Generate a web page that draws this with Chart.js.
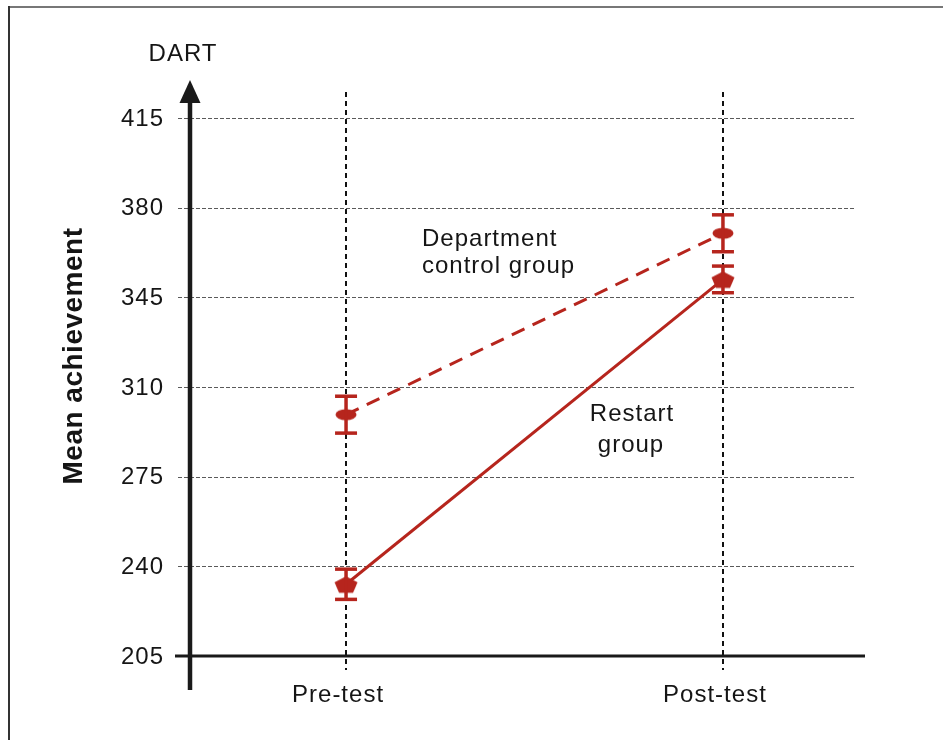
<!DOCTYPE html>
<html>
<head>
<meta charset="utf-8">
<script src="https://cdn.jsdelivr.net/npm/chart.js@4.4.1/dist/chart.umd.min.js"></script>
<style>
html,body{margin:0;padding:0;background:#fff;}
canvas{display:block;}
</style>
</head>
<body>
<canvas id="c" width="943" height="740"></canvas>
<script>
// ---- data ----
const categories = ['Pre-test', 'Post-test'];
const controlMeans = [299.2, 370.0];
const controlErr = [7.2, 7.2];
const restartMeans = [233.0, 352.0];
const restartErr = [5.9, 5.2];
const yTicks = [205, 240, 275, 310, 345, 380, 415];
const yTitle = 'Mean achievement';
const axisLabel = 'DART';
const controlLabel = ['Department', 'control group'];
const restartLabel = ['Restart', 'group'];

const RED = '#B6251D';
const FONT = "'Liberation Sans', Arial, sans-serif";

function makeEllipse() {
  const c = document.createElement('canvas');
  c.width = 24; c.height = 14;
  const g = c.getContext('2d');
  g.fillStyle = RED;
  g.beginPath();
  g.ellipse(12, 7, 10.5, 5.5, 0, 0, Math.PI * 2);
  g.fill();
  return c;
}
function makePentagon() {
  const c = document.createElement('canvas');
  c.width = 26; c.height = 20;
  const g = c.getContext('2d');
  g.fillStyle = RED;
  g.beginPath();
  g.moveTo(13, 2);
  g.lineTo(24.5, 8);
  g.lineTo(20, 18.5);
  g.lineTo(6, 18.5);
  g.lineTo(1.5, 8);
  g.closePath();
  g.fill();
  return c;
}

const errs = [controlErr, restartErr];

const decor = {
  id: 'decor',
  beforeDatasetsDraw(chart) {
    const ctx = chart.ctx;
    const xs = chart.scales.x, ys = chart.scales.y;
    const area = chart.chartArea;
    ctx.save();
    // frame
    ctx.strokeStyle = '#777';
    ctx.lineWidth = 2;
    ctx.beginPath(); ctx.moveTo(8, 7); ctx.lineTo(943, 7); ctx.stroke();
    ctx.strokeStyle = '#333';
    ctx.beginPath(); ctx.moveTo(9, 6); ctx.lineTo(9, 740); ctx.stroke();

    // gridlines
    ctx.strokeStyle = '#5a5a5a';
    ctx.lineWidth = 1;
    ctx.setLineDash([4, 2]);
    yTicks.forEach(v => {
      if (v === yTicks[0]) return;
      const y = Math.round(ys.getPixelForValue(v)) + 0.5;
      ctx.beginPath(); ctx.moveTo(178, y); ctx.lineTo(area.right, y); ctx.stroke();
    });

    // vertical dashed lines
    ctx.strokeStyle = '#111';
    ctx.lineWidth = 2;
    ctx.setLineDash([5, 4]);
    categories.forEach((c, i) => {
      const x = Math.round(xs.getPixelForValue(i));
      ctx.beginPath(); ctx.moveTo(x, 92); ctx.lineTo(x, 670); ctx.stroke();
    });
    ctx.setLineDash([]);

    // axes
    ctx.strokeStyle = '#1a1a1a';
    ctx.fillStyle = '#1a1a1a';
    ctx.lineWidth = 3;
    const y0 = ys.getPixelForValue(yTicks[0]);
    ctx.beginPath(); ctx.moveTo(175, y0); ctx.lineTo(865, y0); ctx.stroke();
    ctx.lineWidth = 4.5;
    ctx.beginPath(); ctx.moveTo(area.left, 690); ctx.lineTo(area.left, 100); ctx.stroke();
    ctx.beginPath();
    ctx.moveTo(area.left, 80);
    ctx.lineTo(area.left + 10.5, 103);
    ctx.lineTo(area.left - 10.5, 103);
    ctx.closePath();
    ctx.fill();

    // texts
    ctx.letterSpacing = '1px';
    ctx.fillStyle = '#151515';
    ctx.font = '24px ' + FONT;
    ctx.textBaseline = 'middle';
    ctx.textAlign = 'right';
    yTicks.forEach(v => {
      ctx.fillText(String(v), 164, ys.getPixelForValue(v) + 1);
    });
    ctx.textAlign = 'center';
    categories.forEach((c, i) => {
      ctx.fillText(c, xs.getPixelForValue(i) - 8, 695);
    });
    ctx.fillText(axisLabel, 183, 54);
    ctx.textAlign = 'left';
    ctx.fillText(controlLabel[0], 422, 239);
    ctx.fillText(controlLabel[1], 422, 266);
    ctx.textAlign = 'center';
    ctx.fillText(restartLabel[0], 632, 414);
    ctx.fillText(restartLabel[1], 631, 445);

    ctx.save();
    ctx.translate(74, 356);
    ctx.rotate(-Math.PI / 2);
    ctx.letterSpacing = '0.5px';
    ctx.font = 'bold 28px ' + FONT;
    ctx.fillText(yTitle, 0, 0);
    ctx.restore();
    ctx.restore();
  },
  afterDatasetsDraw(chart) {
    const ctx = chart.ctx;
    const xs = chart.scales.x, ys = chart.scales.y;
    ctx.save();
    ctx.strokeStyle = RED;
    chart.data.datasets.forEach((ds, di) => {
      ds.data.forEach((p, j) => {
        const x = xs.getPixelForValue(p.x);
        const yt = ys.getPixelForValue(p.y + errs[di][j]);
        const yb = ys.getPixelForValue(p.y - errs[di][j]);
        ctx.lineWidth = 3.5;
        ctx.beginPath(); ctx.moveTo(x, yt); ctx.lineTo(x, yb); ctx.stroke();
        ctx.beginPath(); ctx.moveTo(x - 11, yt); ctx.lineTo(x + 11, yt); ctx.stroke();
        ctx.beginPath(); ctx.moveTo(x - 11, yb); ctx.lineTo(x + 11, yb); ctx.stroke();
      });
    });
    ctx.restore();
  }
};

new Chart(document.getElementById('c'), {
  type: 'line',
  data: {
    datasets: [
      {
        label: 'Department control group',
        data: controlMeans.map((v, i) => ({ x: i, y: v })),
        borderColor: RED,
        borderWidth: 3,
        borderDash: [14, 9],
        pointStyle: makeEllipse(),
        pointRadius: 10,
        fill: false,
        tension: 0
      },
      {
        label: 'Restart group',
        data: restartMeans.map((v, i) => ({ x: i, y: v })),
        borderColor: RED,
        borderWidth: 3,
        pointStyle: makePentagon(),
        pointRadius: 10,
        fill: false,
        tension: 0
      }
    ]
  },
  options: {
    responsive: false,
    animation: false,
    devicePixelRatio: 1,
    layout: { padding: { left: 190, right: 87, top: 118, bottom: 84 } },
    plugins: { legend: { display: false }, tooltip: { enabled: false } },
    scales: {
      x: { type: 'linear', min: -0.414, max: 1.353, display: false },
      y: { type: 'linear', min: 205, max: 415, display: false }
    }
  },
  plugins: [decor]
});
</script>
</body>
</html>
